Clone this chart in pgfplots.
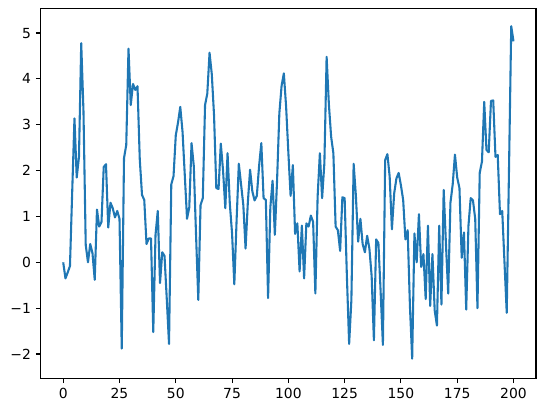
\documentclass[border=0pt]{standalone}
\usepackage{fontspec}
\setmainfont{DejaVu Sans}
\usepackage{pgfplots}
\pgfplotsset{compat=1.18}
\usetikzlibrary{calc}
\definecolor{mplblue}{HTML}{1F77B4}

\begin{document}
\begin{tikzpicture}
\begin{axis}[
  name=ax,
  scale only axis,
  width=356.6pt,height=266.1pt,
  xmin=-10,xmax=210,ymin=-2.53,ymax=5.53,
  xtick={0,25,50,75,100,125,150,175,200},
  xticklabels={0,25,50,75,100,125,150,175,200},
  ytick={-2,-1,0,1,2,3,4,5},
  yticklabels={−2,−1,0,1,2,3,4,5},
  tick align=outside,
  major tick length=3.5pt,
  tick style={black,line width=0.8pt},
  axis line style={line width=0.8pt},
  xtick pos=bottom, ytick pos=left,
  tick label style={font=\fontsize{10}{12}\selectfont},
]
\addplot[mplblue,line width=1.5pt,line join=round,mark=none] coordinates {
(0,0.0) (1,-0.35) (2,-0.22) (3,-0.08) (4,1.55) (5,3.14) (6,1.85) (7,2.3) (8,4.78) (9,3.3)
(10,0.38) (11,0.0) (12,0.4) (13,0.2) (14,-0.38) (15,1.15) (16,0.78) (17,0.88) (18,2.08) (19,2.14)
(20,0.76) (21,1.3) (22,1.18) (23,0.98) (24,1.12) (25,0.95) (26,-1.88) (27,2.27) (28,2.56) (29,4.66)
(30,3.43) (31,3.89) (32,3.76) (33,3.84) (34,2.25) (35,1.47) (36,1.36) (37,0.4) (38,0.52) (39,0.52)
(40,-1.52) (41,0.6) (42,1.12) (43,-0.45) (44,0.22) (45,0.14) (46,-0.8) (47,-1.78) (48,1.7) (49,1.88)
(50,2.77) (51,3.05) (52,3.39) (53,2.85) (54,1.9) (55,0.95) (56,1.2) (57,2.6) (58,2.1) (59,0.6)
(60,-0.82) (61,1.25) (62,1.4) (63,3.43) (64,3.68) (65,4.57) (66,4.1) (67,3.2) (68,1.62) (69,1.6)
(70,2.59) (71,2.0) (72,1.18) (73,2.38) (74,1.28) (75,0.63) (76,-0.48) (77,0.9) (78,2.15) (79,1.7)
(80,1.25) (81,0.3) (82,1.3) (83,2.02) (84,1.55) (85,1.35) (86,1.45) (87,2.1) (88,2.6) (89,1.4)
(90,1.36) (91,-0.78) (92,1.2) (93,1.78) (94,0.6) (95,1.8) (96,3.25) (97,3.85) (98,4.12) (99,3.4)
(100,2.4) (101,1.45) (102,2.12) (103,0.62) (104,0.85) (105,-0.2) (106,0.8) (107,-0.35) (108,0.85) (109,0.78)
(110,1.02) (111,0.88) (112,-0.68) (113,1.43) (114,2.38) (115,1.4) (116,2.16) (117,4.48) (118,3.45) (119,2.74)
(120,2.38) (121,0.78) (122,0.7) (123,0.25) (124,1.42) (125,1.4) (126,-0.3) (127,-1.78) (128,-0.82) (129,2.15)
(130,1.45) (131,0.45) (132,0.95) (133,0.4) (134,0.22) (135,0.58) (136,0.3) (137,-0.3) (138,-1.7) (139,0.5)
(140,0.42) (141,-0.65) (142,-1.8) (143,2.23) (144,2.36) (145,1.87) (146,0.72) (147,1.5) (148,1.83) (149,1.95)
(150,1.68) (151,1.36) (152,0.5) (153,0.7) (154,-0.95) (155,-2.1) (156,0.63) (157,0.0) (158,1.05) (159,-0.1)
(160,0.18) (161,-0.8) (162,0.8) (163,-0.95) (164,0.18) (165,-1.05) (166,-1.38) (167,0.8) (168,-0.92) (169,1.58)
(170,0.4) (171,-0.68) (172,1.3) (173,1.7) (174,2.35) (175,1.85) (176,1.62) (177,0.1) (178,0.65) (179,-1.03)
(180,0.8) (181,1.4) (182,1.35) (183,0.95) (184,-1.0) (185,1.95) (186,2.2) (187,3.5) (188,2.45) (189,2.4)
(190,3.52) (191,3.53) (192,2.3) (193,2.34) (194,1.05) (195,1.12) (196,0.0) (197,-1.1) (198,2.0) (199,5.15)
(200,4.82)
};
\end{axis}
\pgfresetboundingbox
\path[use as bounding box] ($(ax.south west)+(-29.3pt,-25pt)$) rectangle ($(ax.north east)+(7.2pt,6.3pt)$);
\end{tikzpicture}
\end{document}
